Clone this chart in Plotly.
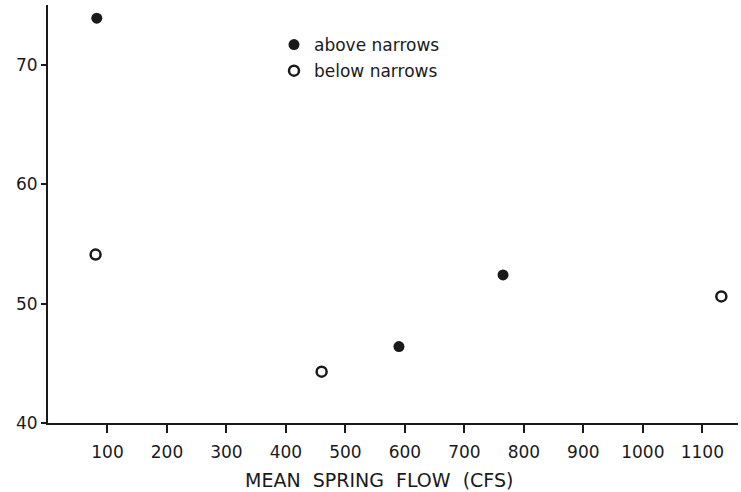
import plotly.graph_objects as go

# Data
above_flow = [82, 590, 765]
above_val = [73.9, 46.4, 52.4]
below_flow = [80, 460, 1132]
below_val = [54.1, 44.3, 50.6]

x_ticks = [100, 200, 300, 400, 500, 600, 700, 800, 900, 1000, 1100]
y_ticks = [40, 50, 60, 70]
x_title = "MEAN  SPRING  FLOW  (CFS)"

FONT = "DejaVu Sans"
INK = "#1a1a1a"

fig = go.Figure()
fig.add_trace(go.Scatter(
    x=above_flow, y=above_val, mode="markers", name="above narrows",
    legendgroup="a",
    marker=dict(symbol="circle", size=11, color=INK, line=dict(width=0)),
))
fig.add_trace(go.Scatter(
    x=below_flow, y=below_val, mode="markers", name="below narrows",
    legendgroup="b",
    marker=dict(symbol="circle-open", size=10, color=INK, line=dict(width=2.5)),
))

fig.add_annotation(
    text=x_title, xref="paper", yref="paper",
    x=(379 - 48) / 690, y=-(480 - 423) / 418, xanchor="center", yanchor="middle",
    showarrow=False, font=dict(family=FONT, size=19, color=INK),
)

fig.update_layout(
    width=741, height=492,
    margin=dict(l=48, r=3, t=5, b=69, autoexpand=False),
    paper_bgcolor="white", plot_bgcolor="white",
    font=dict(family=FONT, size=16, color=INK),
    showlegend=True,
    legend=dict(
        x=(274 - 48) / 690, y=1 - (27 - 5) / 418, xanchor="left", yanchor="top",
        bgcolor="rgba(0,0,0,0)", borderwidth=0,
        font=dict(family=FONT, size=17, color=INK),
        tracegroupgap=1, itemsizing="trace",
    ),
    xaxis=dict(
        range=[0, 1160], tickvals=x_ticks, ticktext=[str(v) for v in x_ticks],
        showgrid=False, zeroline=False, showline=True, linecolor=INK, linewidth=2,
        ticks="outside", ticklen=8, tickwidth=1.5, tickcolor=INK,
        tickfont=dict(size=17), ticklabelstandoff=5,
    ),
    yaxis=dict(
        range=[40, 75], tickvals=y_ticks, ticktext=[str(v) for v in y_ticks],
        showgrid=False, zeroline=False, showline=True, linecolor=INK, linewidth=2,
        ticks="outside", ticklen=5, tickwidth=1.5, tickcolor=INK,
        tickfont=dict(size=17), ticklabelstandoff=0,
    ),
)

fig.write_html("out.html", config={"displayModeBar": False},
               post_script="document.body.style.margin='0px';")
